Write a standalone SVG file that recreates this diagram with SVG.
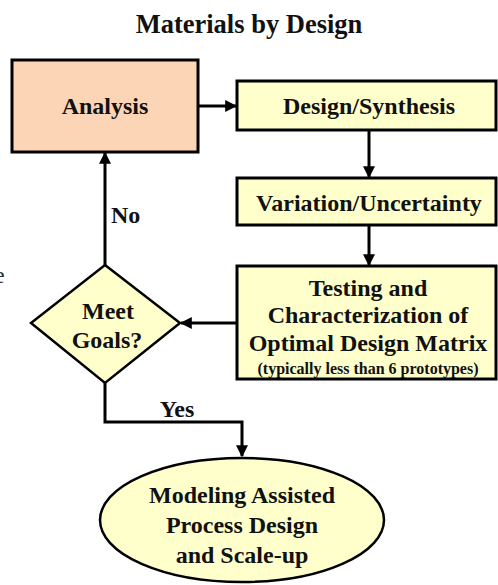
<svg xmlns="http://www.w3.org/2000/svg" width="498" height="585" viewBox="0 0 498 585">
  <defs>
    <style>
      .t { font-family: "Liberation Serif", "Times New Roman", serif; font-weight: bold; fill: #111; text-anchor: middle; }
      .big { font-size: 24px; }
      .title { font-size: 26.5px; }
      .small { font-size: 16px; }
      .box { stroke: #000; stroke-width: 3; }
      .yel { fill: #FFFFCC; }
      .peach { fill: #FBD5B5; }
      .wire { fill: none; stroke: #000; stroke-width: 3; }
    </style>
    <marker id="arrow" viewBox="0 0 10 10" refX="9" refY="5" markerWidth="4" markerHeight="4" orient="auto" markerUnits="strokeWidth">
      <path d="M0,0 L10,5 L0,10 z" fill="#000"/>
    </marker>
  </defs>

  <rect width="498" height="585" fill="#fff"/>

  <text class="t title" x="249" y="33">Materials by Design</text>
  <text x="-6" y="283" style="font-family: 'Liberation Serif', serif; font-size: 24px; fill: #333;">e</text>

  <g id="connectors">
    <line class="wire" x1="198" y1="106" x2="236" y2="106" marker-end="url(#arrow)"/>
    <line class="wire" x1="369" y1="130" x2="369" y2="177" marker-end="url(#arrow)"/>
    <line class="wire" x1="369" y1="225" x2="369" y2="265" marker-end="url(#arrow)"/>
    <line class="wire" x1="237" y1="323" x2="181" y2="323" marker-end="url(#arrow)"/>
    <line class="wire" x1="105" y1="265" x2="105" y2="153" marker-end="url(#arrow)"/>
    <polyline class="wire" points="105,383 105,422 242,422 242,456" marker-end="url(#arrow)"/>
    <text class="t big" x="111" y="223" style="text-anchor: start">No</text>
    <text class="t big" x="177" y="417">Yes</text>
  </g>

  <g id="analysis">
    <rect class="box peach" x="12" y="60" width="186" height="92"/>
    <text class="t big" x="105" y="114">Analysis</text>
  </g>

  <g id="design-synthesis">
    <rect class="box yel" x="237" y="81" width="259" height="49"/>
    <text class="t big" x="369" y="114">Design/Synthesis</text>
  </g>

  <g id="variation">
    <rect class="box yel" x="237" y="178" width="259" height="47"/>
    <text class="t big" x="369" y="211">Variation/Uncertainty</text>
  </g>

  <g id="testing">
    <rect class="box yel" x="237" y="266" width="259" height="113"/>
    <text class="t big" x="368" y="296">Testing and</text>
    <text class="t big" x="368" y="323">Characterization of</text>
    <text class="t big" x="368" y="351">Optimal Design Matrix</text>
    <text class="t small" x="368" y="374">(typically  less than 6 prototypes)</text>
  </g>

  <g id="meet-goals">
    <polygon class="box yel" points="105,265 180,323 105,383 31,323" style="stroke-width: 2.5"/>
    <text class="t big" x="108" y="319">Meet</text>
    <text class="t big" x="107" y="348">Goals?</text>
  </g>

  <g id="modeling">
    <ellipse class="box yel" cx="242" cy="520" rx="142" ry="62" style="stroke-width: 2.5"/>
    <text class="t big" x="242" y="503">Modeling Assisted</text>
    <text class="t big" x="242" y="533">Process Design</text>
    <text class="t big" x="242" y="563">and Scale-up</text>
  </g>
</svg>
